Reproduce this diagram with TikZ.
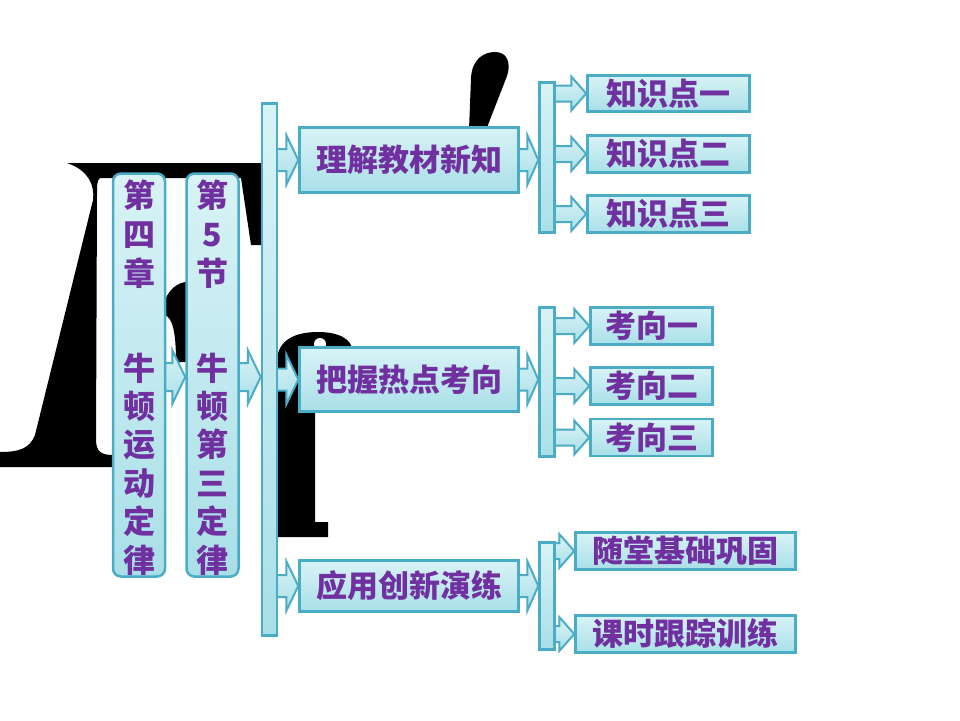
\documentclass[tikz,border=0pt]{standalone}
\usepackage{fontspec}
\newfontfamily\cjk{Noto Sans CJK SC}
\usetikzlibrary{calc}
\definecolor{bordc}{HTML}{4BACC6}
\definecolor{fillt}{HTML}{D8F3F6}
\definecolor{fillb}{HTML}{A9DFE8}
\definecolor{purp}{HTML}{7030A0}
\pgfdeclarelayer{back}
\pgfdeclarelayer{arrows}
\pgfsetlayers{back,arrows,main}
\tikzset{
  aqua/.style={draw=bordc, line width=2.5pt, top color=fillt, bottom color=fillb},
  boxn/.style={aqua, rectangle, inner sep=0pt, text=purp, font=\cjk\bfseries\fontsize{31}{31}\selectfont},
  coln/.style={aqua, rectangle, rounded corners=8pt, inner sep=0pt},
  barn/.style={aqua, rectangle, inner sep=0pt, minimum width=15pt},
  ctext/.style={text=purp, font=\cjk\bfseries\fontsize{32}{39}\selectfont, align=center, inner sep=0pt},
  afill/.style={top color=fillt, bottom color=fillb},
  aline/.style={draw=bordc, line width=2pt, line join=miter},
  ink/.style={fill=black},
}
\newcommand{\barrow}[5]{%
  \path[afill] let \p1=(#1), \p2=(#2) in (\x1,\y1+#3) -- (\x2-#5,\y1+#3) -- (\x2-#5,\y1+#4) -- (\x2,\y1) -- (\x2-#5,\y1-#4) -- (\x2-#5,\y1-#3) -- (\x1,\y1-#3) -- cycle;
  \draw[aline] let \p1=(#1), \p2=(#2) in (\x1,\y1+#3) -- (\x2-#5,\y1+#3) -- (\x2-#5,\y1+#4) -- (\x2,\y1) -- (\x2-#5,\y1-#4) -- (\x2-#5,\y1-#3) -- (\x1,\y1-#3);
}
\begin{document}
\begin{tikzpicture}[x=1pt,y=-1pt]
\useasboundingbox (0,0) rectangle (960,720);
\begin{pgfonlayer}{back}
  \fill[white] (0,0) rectangle (960,720);
  % background glyph fragments
  \fill[ink] (67,163) -- (262,163) -- (262,245) -- (251,245) -- (241,178) -- (100,178)
     .. controls (97,180) and (97,185) .. (97,195) -- (96,440)
     .. controls (96,452) and (102,455) .. (113,455) -- (113,467) -- (0,467) -- (0,452)
     .. controls (20,452) and (30,448) .. (35,435) -- (93,200)
     .. controls (95,185) and (88,170) .. (67,163) -- cycle;
  \fill[ink] (165,300) .. controls (170,288) and (178,283) .. (186,282) -- (186,362) -- (176,362)
     .. controls (176,330) and (172,318) .. (165,315) -- cycle;
  \fill[ink] (469,130) -- (471,78) .. controls (472,58) and (485,52) .. (495,52)
     .. controls (508,52) and (511,64) .. (507,76) -- (486,130) -- cycle;
  \fill[ink] (277,537) -- (277,360) .. controls (278,340) and (295,332) .. (318,332)
     .. controls (340,332) and (352,340) .. (352,350) -- (315,350) -- (315,522) -- (328,522) -- (328,537) -- cycle;
  \fill[white] (320,344) circle (6);
\end{pgfonlayer}

% columns
\node[coln, minimum width=52pt, minimum height=403pt] (c1) at (139,375) {};
\node[ctext] (c1a) at (139,234) {第\\四\\章};
\node[ctext, font=\cjk\bfseries\fontsize{32}{38.4}\selectfont] (c1b) at (139,464) {牛\\顿\\运\\动\\定\\律};
\node[coln, minimum width=52pt, minimum height=403pt] (c2) at (212.5,375) {};
\node[ctext] (c2a) at (212.5,234) {第\\5\\节};
\node[ctext, font=\cjk\bfseries\fontsize{32}{38.4}\selectfont] (c2b) at (212.5,464) {牛\\顿\\第\\三\\定\\律};

% bars
\node[barn, minimum height=532pt] (bar0) at (269.5,369.5) {};
\node[barn, minimum height=150pt] (bar1) at (547,157.5) {};
\node[barn, minimum height=149pt] (bar2) at (547,382) {};
\node[barn, minimum height=107pt] (bar3) at (547,596) {};

% middle boxes
\node[boxn, minimum width=219pt, minimum height=65pt] (m1) at (409,160) {理解教材新知};
\node[boxn, minimum width=219pt, minimum height=64pt] (m2) at (409,379.5) {把握热点考向};
\node[boxn, minimum width=219pt, minimum height=51pt] (m3) at (409,586) {应用创新演练};

% right boxes
\node[boxn, minimum width=162pt, minimum height=36pt] (k1) at (668.5,93.5) {知识点一};
\node[boxn, minimum width=162pt, minimum height=37pt] (k2) at (668.5,154) {知识点二};
\node[boxn, minimum width=162pt, minimum height=37pt] (k3) at (668.5,214) {知识点三};
\node[boxn, minimum width=122pt, minimum height=37pt] (q1) at (651.5,326) {考向一};
\node[boxn, minimum width=122pt, minimum height=37pt] (q2) at (651.5,386) {考向二};
\node[boxn, minimum width=122pt, minimum height=37pt] (q3) at (651.5,437.5) {考向三};
\node[boxn, minimum width=220pt, minimum height=37pt] (s1) at (685.5,551) {随堂基础巩固};
\node[boxn, minimum width=220pt, minimum height=37pt] (s2) at (685.5,634) {课时跟踪训练};

\coordinate (ya) at (0,377);

\begin{pgfonlayer}{arrows}
  \barrow{c1.center |- ya}{c2.west |- ya}{14}{27}{13}
  \barrow{c2.center |- ya}{bar0.west |- ya}{14}{27}{13}
  \barrow{bar0.center |- m1.west}{m1.west}{11}{25}{12}
  \barrow{bar0.center |- m2.west}{m2.west}{11}{25}{12}
  \barrow{bar0.center |- m3.west}{m3.west}{11}{25}{12}
  \barrow{m1.center}{bar1.west |- m1.east}{11}{25}{11}
  \barrow{m2.center}{bar2.west |- m2.east}{11}{25}{11}
  \barrow{m3.center}{bar3.west |- m3.east}{11}{25}{11}
  \barrow{bar1.center |- k1.west}{k1.west}{8}{17}{15}
  \barrow{bar1.center |- k2.west}{k2.west}{8}{17}{15}
  \barrow{bar1.center |- k3.west}{k3.west}{8}{17}{15}
  \barrow{bar2.center |- q1.west}{q1.west}{8}{17}{15}
  \barrow{bar2.center |- q2.west}{q2.west}{8}{17}{15}
  \barrow{bar2.center |- q3.west}{q3.west}{8}{17}{15}
  \barrow{bar3.center |- s1.west}{s1.west}{8}{17}{15}
  \barrow{bar3.center |- s2.west}{s2.west}{8}{17}{15}
\end{pgfonlayer}
\end{tikzpicture}
\end{document}
